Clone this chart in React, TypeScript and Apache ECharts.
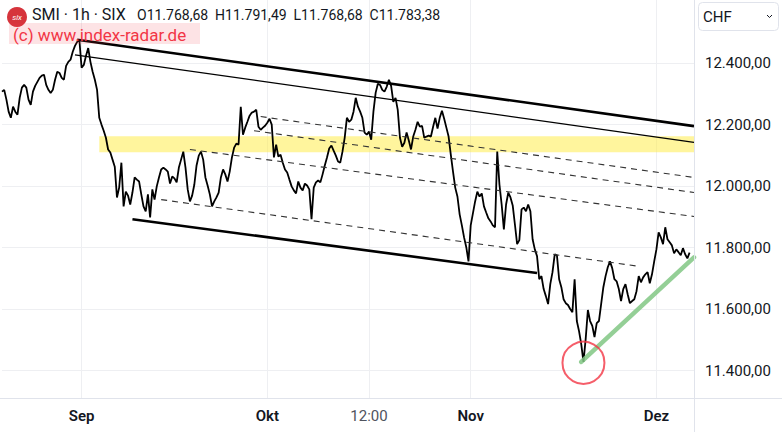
import React, { useEffect, useRef } from "react";
import * as echarts from "echarts";

// ---- time axis (trading-hour slots, 4 per SIX session) ----
const slotHours = ["09:00", "11:00", "13:00", "15:00"];
const tradingDayCount = 78; // 20.08.2024 – 05.12.2024
const futureSlots = 2;

// ---- SMI 1h, sampled per slot (CHF) ----
const closes = [
  12307, 12313, 12281, 12242, 12222, 12258, 12242, 12232, 12287, 12320,
  12329, 12320, 12281, 12264, 12307, 12326, 12339, 12352, 12359, 12362,
  12329, 12313, 12303, 12313, 12346, 12372, 12368, 12352, 12346, 12391,
  12404, 12411, 12437, 12456, 12469, 12475, 12385, 12394, 12424, 12449,
  12404, 12372, 12346, 12313, 12222, 12200, 12180, 12157, 12119, 12109,
  12086, 12063, 11963, 11995, 12076, 11934, 11982, 11969, 11940, 11979,
  12028, 12021, 12015, 11973, 11934, 11918, 11973, 11898, 11989, 11956,
  11999, 12028, 12054, 12060, 12054, 12047, 12008, 12031, 12025, 12012,
  12060, 12086, 12112, 12060, 11989, 11950, 11969, 12005, 12067, 12099,
  12112, 12086, 12028, 12002, 11973, 11934, 11950, 11963, 11979, 12028,
  12054, 12038, 12015, 12047, 12093, 12125, 12138, 12135, 12258, 12167,
  12190, 12209, 12229, 12239, 12242, 12248, 12193, 12183, 12190, 12196,
  12206, 12219, 12200, 12093, 12135, 12096, 12102, 12076, 12054, 12044,
  12021, 11999, 11986, 11976, 12015, 11995, 11986, 12008, 12002, 11989,
  11892, 11995, 12012, 12018, 12012, 12038, 12067, 12093, 12122, 12132,
  12115, 12099, 12080, 12076, 12112, 12157, 12222, 12209, 12216, 12242,
  12287, 12258, 12242, 12222, 12174, 12167, 12177, 12151, 12242, 12303,
  12333, 12329, 12313, 12307, 12323, 12346, 12326, 12274, 12287, 12248,
  12157, 12128, 12141, 12174, 12148, 12119, 12161, 12183, 12209, 12193,
  12196, 12157, 12161, 12164, 12161, 12193, 12222, 12187, 12222, 12245,
  12219, 12190, 12161, 12102, 12047, 11995, 11966, 11908, 11872, 11833,
  11801, 11755, 11872, 11911, 11950, 11982, 11966, 11976, 11934, 11914,
  11895, 11885, 11872, 11866, 12112, 12005, 11940, 11859, 11940, 11979,
  11963, 11937, 11875, 11811, 11824, 11924, 11930, 11918, 11940, 11918,
  11827, 11794, 11772, 11697, 11707, 11665, 11642, 11616, 11681, 11720,
  11778, 11775, 11697, 11671, 11632, 11619, 11613, 11600, 11590, 11697,
  11561, 11528, 11486, 11428, 11502, 11597, 11561, 11545, 11509, 11554,
  11561, 11616, 11671, 11707, 11736, 11755, 11733, 11697, 11690, 11665,
  11626, 11665, 11681, 11648, 11619, 11626, 11632, 11658, 11707, 11687,
  11703, 11713, 11720, 11684, 11713, 11755, 11794, 11849, 11833, 11811,
  11866, 11827, 11817, 11807, 11781, 11794, 11785, 11775, 11798, 11778,
  11765, 11783.38,
];

// ---- axis ticks ----
const xTickSlots = [36, 120, 166, 212, 296];
const xTickLabels = ["Sep", "Okt", "12:00", "Nov", "Dez"];
const xTickIsMonth = [true, true, false, true, true];
const yTicks = [11400, 11600, 11800, 12000, 12200, 12400];

// ---- drawings: [slot, price] endpoints ----
const channelUpper = [[34, 12476], [313, 12195]];
const channelUpperThin = [[33, 12427], [313, 12142]];
const channelLower = [[59, 11892], [242, 11717]];
const dashedLines = [
  [[117, 12226], [313, 12028]],
  [[114, 12180], [313, 11979]],
  [[85, 12119], [313, 11901]],
  [[72, 11956], [288, 11739]],
];
const resistanceZone = [[44, 12162], [313, 12110]];
const supportLine = [[262, 11428], [313, 11768]];
const lowMarker = [263, 11425];

const pad = (n: number) => String(n).padStart(2, "0");

function buildCategories(): string[] {
  const out: string[] = [];
  const d = new Date(Date.UTC(2024, 7, 20));
  let days = 0;
  while (days < tradingDayCount + 1) {
    const wd = d.getUTCDay();
    if (wd !== 0 && wd !== 6) {
      const lbl = `${pad(d.getUTCDate())}.${pad(d.getUTCMonth() + 1)}.`;
      for (const h of slotHours) out.push(`${lbl} ${h}`);
      days++;
    }
    d.setUTCDate(d.getUTCDate() + 1);
  }
  out.length = tradingDayCount * slotHours.length + futureSlots;
  return out;
}

function fmtPrice(v: number): string {
  const [i, f] = v.toFixed(2).split(".");
  const withDots = i.replace(/\B(?=(\d{3})+(?!\d))/g, ".");
  return `${withDots},${f}`;
}

const FONT = "Roboto, 'Noto Sans', sans-serif";
const TEXT = "#131722";
const GRID = "#eeeff2";

export default function App() {
  const ref = useRef<HTMLDivElement>(null);

  useEffect(() => {
    if (!ref.current) return;
    const chart = echarts.init(ref.current, null, { renderer: "svg" });
    const categories = buildCategories();
    const tickMap: Record<string, string> = {};
    xTickSlots.forEach((s, k) => {
      tickMap[categories[s]] = xTickIsMonth[k] ? `{m|${xTickLabels[k]}}` : `{t|${xTickLabels[k]}}`;
    });
    const isTick = (idx: number) => xTickSlots.indexOf(idx) >= 0;

    const lineSeries = (data: number[][], style: any, z: number) => ({
      type: "line",
      xAxisIndex: 0,
      yAxisIndex: 0,
      data,
      showSymbol: false,
      symbol: "none",
      silent: true,
      z,
      lineStyle: style,
    });

    const option: any = {
      animation: false,
      backgroundColor: "#ffffff",
      textStyle: { fontFamily: FONT },
      grid: [
        { left: 2, right: 88, top: 1.6, bottom: -1.4 },
        { left: 2, right: 88, top: 0, bottom: 34 },
      ],
      xAxis: [
        {
          gridIndex: 0,
          type: "category",
          data: categories,
          boundaryGap: false,
          show: false,
        },
        {
          gridIndex: 1,
          type: "category",
          data: categories,
          boundaryGap: false,
          axisLine: { show: false },
          axisTick: { show: false },
          axisLabel: {
            interval: (idx: number) => isTick(idx),
            formatter: (v: string) => tickMap[v] || "",
            margin: 10,
            rich: {
              m: { fontSize: 15, fontWeight: 600, color: TEXT, fontFamily: FONT },
              t: { fontSize: 15, color: "#50535e", fontFamily: FONT },
            },
          },
          splitLine: {
            show: true,
            interval: (idx: number) => isTick(idx),
            lineStyle: { color: GRID, width: 1 },
          },
        },
      ],
      yAxis: [
        {
          gridIndex: 0,
          type: "value",
          position: "right",
          min: 11200,
          max: 12600,
          interval: 200,
          axisLine: { show: false },
          axisTick: { show: false },
          axisLabel: {
            margin: 11,
            fontSize: 15,
            color: TEXT,
            fontFamily: FONT,
            formatter: (v: number) => (yTicks.indexOf(v) >= 0 ? fmtPrice(v) : ""),
          },
          splitLine: {
            show: true,
            lineStyle: {
              color: ["rgba(0,0,0,0)", GRID, GRID, GRID, GRID, GRID, GRID, "rgba(0,0,0,0)"],
              width: 1,
            },
          },
        },
        { gridIndex: 1, type: "value", show: false, min: 0, max: 1, splitLine: { show: false } },
      ],
      series: [
        {
          type: "line",
          xAxisIndex: 0,
          yAxisIndex: 0,
          data: [],
          silent: true,
          z: 1,
          markArea: {
            silent: true,
            itemStyle: { color: "rgba(255,235,59,0.5)" },
            data: [[{ coord: resistanceZone[0] }, { coord: resistanceZone[1] }]],
          },
        },
        {
          type: "line",
          name: "SMI",
          xAxisIndex: 0,
          yAxisIndex: 0,
          data: closes,
          showSymbol: false,
          symbol: "none",
          silent: true,
          z: 3,
          lineStyle: { color: "#000000", width: 1.8 },
        },
        lineSeries(channelUpper, { color: "#000000", width: 2.6 }, 4),
        lineSeries(channelUpperThin, { color: "#000000", width: 1.2 }, 4),
        lineSeries(channelLower, { color: "#000000", width: 2.6 }, 4),
        ...dashedLines.map((d) => lineSeries(d, { color: "#333333", width: 1.1, type: [6, 5] }, 4)),
        lineSeries(supportLine, { color: "rgba(129,199,132,0.85)", width: 4.5, cap: "round" }, 5),
        {
          type: "scatter",
          xAxisIndex: 0,
          yAxisIndex: 0,
          data: [lowMarker],
          symbol: "circle",
          symbolSize: 42,
          silent: true,
          z: 6,
          itemStyle: { color: "rgba(0,0,0,0)", borderColor: "#f23645", borderWidth: 2 },
        },
      ],
      graphic: [
        { type: "line", silent: true, z: 10, shape: { x1: 694.5, y1: 0, x2: 694.5, y2: 432 }, style: { stroke: "#e0e3eb", lineWidth: 1 } },
        { type: "line", silent: true, z: 10, shape: { x1: 0, y1: 398.5, x2: 782, y2: 398.5 }, style: { stroke: "#e0e3eb", lineWidth: 1 } },
        // header
        { type: "circle", silent: true, z: 20, shape: { cx: 17, cy: 17, r: 10 }, style: { fill: "#d6343c" } },
        { type: "text", silent: true, z: 21, x: 17, y: 17, style: { text: "six", fill: "#ffffff", font: "italic 8px " + FONT, align: "center", verticalAlign: "middle" } },
        { type: "text", silent: true, z: 20, x: 32, y: 14.5, style: { text: "SMI · 1h · SIX", fill: TEXT, font: "16px " + FONT, verticalAlign: "middle" } },
        { type: "text", silent: true, z: 20, x: 137, y: 14.5, style: { text: "O11.768,68  H11.791,49  L11.768,68  C11.783,38", fill: TEXT, font: "14px " + FONT, verticalAlign: "middle" } },
        { type: "rect", silent: true, z: 20, shape: { x: 9, y: 23, width: 191, height: 21 }, style: { fill: "rgba(242,54,69,0.14)" } },
        { type: "text", silent: true, z: 21, x: 13, y: 34.5, style: { text: "(c) www.index-radar.de", fill: "#f23645", font: "17px " + FONT, verticalAlign: "middle" } },
        // currency box
        { type: "rect", silent: true, z: 20, shape: { x: 698.5, y: 2.5, width: 80, height: 28, r: 4 }, style: { fill: "#ffffff", stroke: "#e0e3eb", lineWidth: 1 } },
        { type: "text", silent: true, z: 21, x: 703, y: 17, style: { text: "CHF", fill: TEXT, font: "15px " + FONT, verticalAlign: "middle" } },
        { type: "polyline", silent: true, z: 21, shape: { points: [[767, 15], [769.5, 17.5], [772, 15]] }, style: { stroke: TEXT, lineWidth: 1, fill: "none" } },
      ],
    };

    chart.setOption(option);
    return () => chart.dispose();
  }, []);

  return <div ref={ref} style={{ position: "fixed", left: 0, top: 0, width: 782, height: 432 }} />;
}
